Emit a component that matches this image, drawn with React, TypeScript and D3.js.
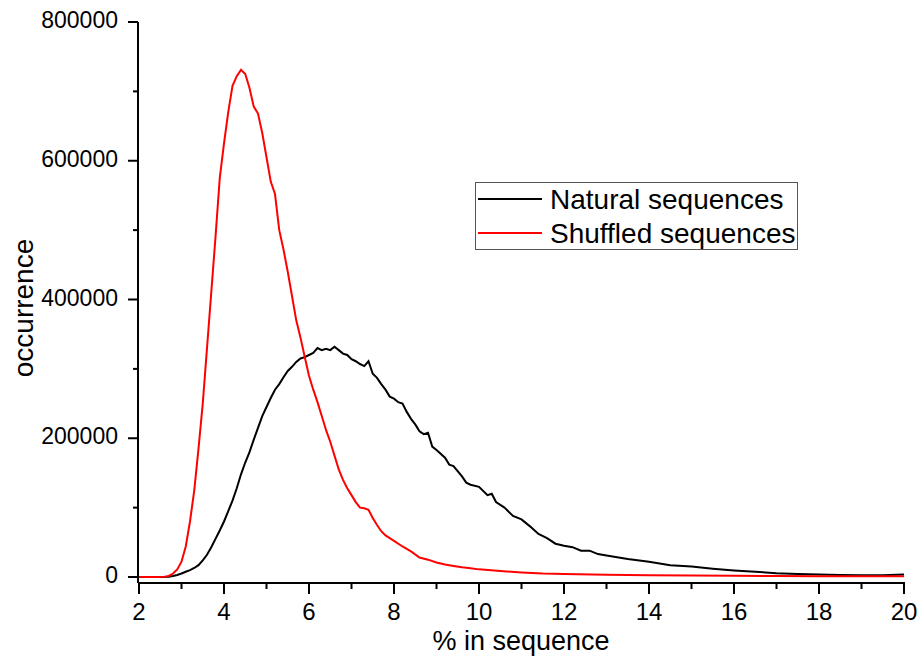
import React from 'react';
import * as d3 from 'd3';

// % in sequence -> occurrence
const shuffledX = [2, 2.2, 2.4, 2.6, 2.7, 2.8, 2.9, 3, 3.1, 3.2, 3.3, 3.4, 3.5, 3.6, 3.7, 3.8, 3.9, 4, 4.1, 4.2, 4.3, 4.4, 4.5, 4.6, 4.7, 4.8, 4.9, 5, 5.1, 5.2, 5.3, 5.4, 5.5, 5.6, 5.7, 5.8, 5.9, 6, 6.1, 6.2, 6.3, 6.4, 6.5, 6.6, 6.7, 6.8, 6.9, 7, 7.1, 7.2, 7.3, 7.4, 7.5, 7.6, 7.7, 7.8, 7.9, 8, 8.2, 8.4, 8.6, 8.8, 9, 9.2, 9.4, 9.6, 9.8, 10, 10.5, 11, 11.5, 12, 13, 14, 15, 16, 17, 18, 19, 20];
const shuffledY = [0, 0, 0, 500, 1500, 5000, 11000, 22000, 44000, 80000, 125000, 185000, 250000, 330000, 410000, 490000, 575000, 625000, 670000, 708000, 722000, 731000, 725000, 705000, 678000, 668000, 640000, 605000, 570000, 552000, 500000, 472000, 440000, 405000, 370000, 345000, 317000, 290000, 270000, 252000, 232000, 212000, 195000, 175000, 155000, 140000, 128000, 118000, 108000, 100000, 99000, 97000, 85000, 75000, 66000, 60000, 56000, 52000, 44000, 37000, 28000, 25000, 21000, 18000, 16000, 14000, 12500, 11000, 8500, 6500, 5000, 4200, 3200, 2600, 2000, 1700, 1400, 1200, 1000, 1000];

const naturalX = [2, 2.5, 2.7, 2.8, 2.9, 3, 3.1, 3.2, 3.3, 3.4, 3.5, 3.6, 3.7, 3.8, 3.9, 4, 4.1, 4.2, 4.3, 4.4, 4.5, 4.6, 4.7, 4.8, 4.9, 5, 5.1, 5.2, 5.3, 5.4, 5.5, 5.6, 5.7, 5.8, 5.9, 6, 6.1, 6.2, 6.3, 6.4, 6.5, 6.6, 6.7, 6.8, 6.9, 7, 7.1, 7.2, 7.3, 7.4, 7.5, 7.6, 7.7, 7.8, 7.9, 8, 8.1, 8.2, 8.3, 8.4, 8.5, 8.6, 8.7, 8.8, 8.9, 9, 9.2, 9.3, 9.4, 9.6, 9.7, 9.8, 10, 10.2, 10.3, 10.4, 10.6, 10.8, 11, 11.2, 11.4, 11.6, 11.8, 12, 12.2, 12.4, 12.6, 12.8, 13, 13.5, 14, 14.5, 15, 15.5, 16, 16.5, 17, 17.5, 18, 18.5, 19, 19.5, 20];
const naturalY = [0, 0, 500, 1500, 3000, 5000, 7500, 10000, 13000, 17000, 24000, 32000, 43000, 55000, 67000, 80000, 95000, 110000, 128000, 148000, 165000, 180000, 198000, 215000, 232000, 245000, 258000, 270000, 278000, 288000, 297000, 303000, 310000, 315000, 317000, 320000, 323000, 330000, 327000, 329000, 327000, 332000, 327000, 322000, 320000, 314000, 311000, 307000, 304000, 311000, 293000, 287000, 278000, 270000, 260000, 257000, 252000, 250000, 238000, 228000, 220000, 210000, 206000, 208000, 188000, 183000, 172000, 162000, 160000, 145000, 136000, 133000, 130000, 118000, 120000, 108000, 100000, 88000, 83000, 73000, 62000, 56000, 48000, 45000, 43000, 38000, 38000, 33000, 31000, 26000, 22000, 17000, 15000, 12000, 9500, 7500, 5500, 4500, 3500, 3000, 2500, 2500, 3500];

const legendLabels = ['Natural sequences', 'Shuffled sequences'];
const seriesColors = ['#000000', '#ff0000'];

const W = 918;
const H = 661;
const font = '"Liberation Sans", Arial, sans-serif';

const x = d3.scaleLinear().domain([2, 20]).range([139, 904]);
const y = d3.scaleLinear().domain([0, 800000]).range([577, 22]);

const line = d3
  .line<[number, number]>()
  .x(d => x(d[0]))
  .y(d => y(d[1]));

const App = () => {
  const natural = naturalX.map((v, i) => [v, naturalY[i]] as [number, number]);
  const shuffled = shuffledX.map((v, i) => [v, shuffledY[i]] as [number, number]);
  const axisY = 583;
  const axisX = 138;

  const xMajor = d3.range(2, 21, 2);
  const xMinor = d3.range(3, 20, 2);
  const yMajor = d3.range(0, 800001, 200000);
  const yMinor = d3.range(100000, 800000, 200000);

  return (
    <svg width={W} height={H} style={{ position: 'absolute', left: 0, top: 0, background: '#fff' }}>
      <rect width={W} height={H} fill="#fff" />

      <path d={line(natural) || ''} fill="none" stroke={seriesColors[0]} strokeWidth={2} />
      <path d={line(shuffled) || ''} fill="none" stroke={seriesColors[1]} strokeWidth={2} />

      {/* y axis */}
      <line x1={axisX} x2={axisX} y1={y(800000)} y2={axisY} stroke="#000" strokeWidth={2} />
      {yMajor.map(v => (
        <g key={'ym' + v}>
          <line x1={axisX - 10} x2={axisX} y1={y(v)} y2={y(v)} stroke="#000" strokeWidth={2} />
          <text x={118} y={y(v) - 2} dy="0.35em" textAnchor="end" fontFamily={font} fontSize={23}>
            {v}
          </text>
        </g>
      ))}
      {yMinor.map(v => (
        <line key={'yn' + v} x1={axisX - 5} x2={axisX} y1={y(v)} y2={y(v)} stroke="#000" strokeWidth={2} />
      ))}

      {/* x axis */}
      <line x1={axisX} x2={x(20) + 1} y1={axisY} y2={axisY} stroke="#000" strokeWidth={2} />
      {xMajor.map(v => (
        <g key={'xm' + v}>
          <line x1={x(v)} x2={x(v)} y1={axisY} y2={axisY + 11} stroke="#000" strokeWidth={2} />
          <text x={x(v)} y={620} textAnchor="middle" fontFamily={font} fontSize={24}>
            {v}
          </text>
        </g>
      ))}
      {xMinor.map(v => (
        <line key={'xn' + v} x1={x(v)} x2={x(v)} y1={axisY} y2={axisY + 6} stroke="#000" strokeWidth={2} />
      ))}

      <text x={521} y={650} textAnchor="middle" fontFamily={font} fontSize={27}>
        % in sequence
      </text>
      <text
        transform="translate(33,308) rotate(-90)"
        textAnchor="middle"
        fontFamily={font}
        fontSize={28}
      >
        occurrence
      </text>

      {/* legend */}
      <rect x={475.5} y={182.5} width={322} height={67} fill="#fff" stroke="#555" strokeWidth={1} />
      {legendLabels.map((lab, i) => (
        <g key={lab}>
          <line x1={478} x2={542} y1={199 + i * 34} y2={199 + i * 34} stroke={seriesColors[i]} strokeWidth={2} />
          <text x={550} y={199 + i * 34} dy="0.36em" fontFamily={font} fontSize={28}>
            {lab}
          </text>
        </g>
      ))}
    </svg>
  );
};

export default App;
